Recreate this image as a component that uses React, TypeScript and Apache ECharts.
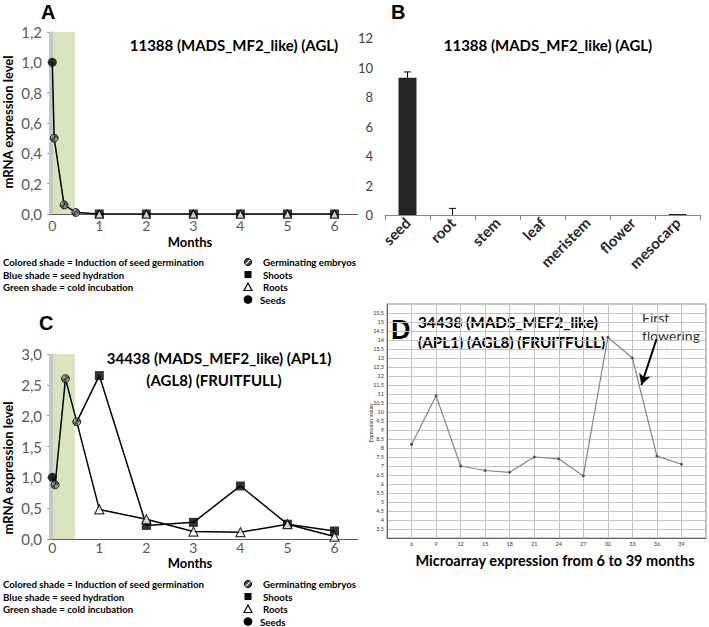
import React, { useEffect, useRef } from "react";
import * as echarts from "echarts";

// ---------- data ----------
const monthTicks = [0, 1, 2, 3, 4, 5, 6];
const laterMonths = [1, 2, 3, 4, 5, 6];

// Panel A
const seedA = [[0, 1.0]];
const embryoA = [[0.04, 0.5], [0.25, 0.06], [0.5, 0.01]];
const shootsA = [0, 0, 0, 0, 0, 0];
const rootsA = [0, 0, 0, 0, 0, 0];

// Panel B
const tissues = ["seed", "root", "stem", "leaf", "meristem", "flower", "mesocarp"];
const tissueValues = [9.3, 0, 0, 0, 0, 0, 0.07];
const tissueErrors = [0.4, 0.45, 0, 0, 0, 0, 0];

// Panel C
const seedC = [[0, 1.0]];
const embryoC = [[0.06, 0.88], [0.28, 2.6], [0.52, 1.9]];
const shootsC = [2.65, 0.22, 0.27, 0.86, 0.24, 0.13];
const rootsC = [0.48, 0.32, 0.12, 0.11, 0.24, 0.04];

// Panel D
const microMonths = [6, 9, 12, 15, 18, 21, 24, 27, 30, 33, 36, 39];
const microValues = [8.2, 10.9, 7.0, 6.75, 6.65, 7.5, 7.4, 6.45, 14.15, 13.0, 7.55, 7.1];

const legendNotes = [
  "Colored shade = Induction of seed germination",
  "Blue shade = seed hydration",
  "Green shade = cold incubation",
];
const legendItems = ["Germinating embryos", "Shoots", "Roots", "Seeds"];

const BLUE = "#b8cadf";
const GREEN = "#d8e4bd";
const FONT = "Lato";
const AXIS = "#868686";

const comma = (v: number, d: number) => v.toFixed(d).replace(".", ",");

function makeHatch(): any {
  try {
    const c = document.createElement("canvas");
    c.width = 4;
    c.height = 4;
    const g = c.getContext("2d");
    if (!g) return "#8a8a8a";
    g.fillStyle = "#d0d0d0";
    g.fillRect(0, 0, 4, 4);
    g.strokeStyle = "#2a2a2a";
    g.lineWidth = 1.3;
    g.beginPath();
    g.moveTo(-1, 5);
    g.lineTo(5, -1);
    g.moveTo(-1, 1);
    g.lineTo(1, -1);
    g.moveTo(3, 5);
    g.lineTo(5, 3);
    g.stroke();
    return { image: c.toDataURL(), repeat: "repeat" };
  } catch (e) {
    return "#8a8a8a";
  }
}

function timeAxisX(gridIndex: number, labelMargin: number) {
  return {
    type: "value",
    gridIndex,
    min: -0.07,
    max: 6.5,
    axisLine: { show: true, lineStyle: { color: "#5a5a5a", width: 1 } },
    axisTick: { show: false },
    splitLine: { show: false },
    axisLabel: {
      customValues: monthTicks,
      margin: labelMargin,
      fontSize: 14,
      color: "#595959",
      fontFamily: FONT,
      formatter: (v: number) => String(v),
    },
  };
}

function exprAxisY(gridIndex: number, max: number, interval: number) {
  return {
    type: "value",
    gridIndex,
    min: 0,
    max,
    interval,
    axisLine: { show: true, lineStyle: { color: AXIS } },
    axisTick: { show: true, length: 5, lineStyle: { color: AXIS } },
    splitLine: { show: false },
    axisLabel: {
      margin: 7,
      fontSize: 15,
      color: "#595959",
      fontFamily: FONT,
      formatter: (v: number) => comma(v, 1),
    },
  };
}

const shadeArea = {
  silent: true,
  data: [
    [{ xAxis: -0.07, itemStyle: { color: BLUE } }, { xAxis: 0 }],
    [{ xAxis: 0, itemStyle: { color: GREEN } }, { xAxis: 0.48 }],
  ],
};

function embryoSeries(x: number, y: number, data: number[][], z: number, fill: any) {
  return {
    type: "scatter",
    xAxisIndex: x,
    yAxisIndex: y,
    data,
    symbol: "circle",
    symbolSize: 8,
    z,
    itemStyle: { color: fill, borderColor: "#000", borderWidth: 1 },
  };
}

function legendBlock(top: number) {
  const els: any[] = [];
  legendNotes.forEach((t, i) => {
    els.push({
      type: "text",
      x: 3,
      y: top + i * 12.5,
      style: { text: t, font: `bold 9.7px ${FONT}`, fill: "#000", textVerticalAlign: "middle" },
    });
  });
  legendItems.forEach((t, i) => {
    els.push({
      type: "text",
      x: i === 3 ? 260 : 263,
      y: top + i * 12.5,
      style: { text: t, font: `bold 9.7px ${FONT}`, fill: "#000", textVerticalAlign: "middle" },
    });
  });
  const sx = 248;
  els.push({ type: "circle", shape: { cx: sx, cy: top, r: 3.6 }, style: { fill: "#444", stroke: "#000", lineWidth: 1 } });
  els.push({ type: "line", shape: { x1: sx - 2.3, y1: top + 2.3, x2: sx + 2.3, y2: top - 2.3 }, style: { stroke: "#fff", lineWidth: 1.2 } });
  els.push({ type: "rect", shape: { x: sx - 3.5, y: top + 12.5 - 3.5, width: 7, height: 7 }, style: { fill: "#000" } });
  els.push({
    type: "polygon",
    shape: { points: [[sx, top + 25 - 4], [sx - 4, top + 25 + 3.5], [sx + 4, top + 25 + 3.5]] },
    style: { fill: "#fff", stroke: "#000", lineWidth: 1.2 },
  });
  els.push({ type: "circle", shape: { cx: sx, cy: top + 37.5, r: 4.3 }, style: { fill: "#000" } });
  return els;
}

function txt(x: number, y: number, text: string, font: string, align = "left", extra: any = {}) {
  return {
    type: "text",
    x,
    y,
    ...extra,
    style: { text, font, fill: "#000", textAlign: align, textVerticalAlign: "middle", ...(extra.style || {}) },
  };
}

export default function App() {
  const ref = useRef<HTMLDivElement>(null);

  useEffect(() => {
    if (!ref.current) return;
    const chart = echarts.init(ref.current, undefined, { renderer: "svg" });
    const hatchFill = makeHatch();

    const lineA = [...seedA, ...embryoA, ...laterMonths.map((m, i) => [m, rootsA[i]])];
    const lineC1 = [...seedC, ...embryoC, ...laterMonths.map((m, i) => [m, shootsC[i]])];
    const lineC2 = [embryoC[embryoC.length - 1], ...laterMonths.map((m, i) => [m, rootsC[i]])];

    const errData = tissues
      .map((_, i) => [i, tissueValues[i], tissueValues[i] + tissueErrors[i]])
      .filter((d) => d[2] > d[1]);

    const option: any = {
      animation: false,
      textStyle: { fontFamily: FONT },
      grid: [
        { left: 49, top: 32, width: 309, height: 182 },
        { left: 385, top: 38, width: 315, height: 177 },
        { left: 49, top: 354, width: 309, height: 185 },
        { left: 387, top: 304, width: 321, height: 234, show: true, borderColor: "#8c8c8c", borderWidth: 1 },
      ],
      xAxis: [
        timeAxisX(0, 4),
        {
          type: "category",
          gridIndex: 1,
          data: tissues,
          boundaryGap: true,
          axisLine: { show: true, lineStyle: { color: AXIS } },
          axisTick: { show: true, length: 5, lineStyle: { color: AXIS } },
          axisLabel: {
            rotate: 45,
            margin: 5,
            interval: 0,
            fontSize: 15,
            fontWeight: "bold",
            color: "#262626",
            fontFamily: FONT,
          },
        },
        timeAxisX(2, 1),
        {
          type: "value",
          gridIndex: 3,
          min: 3,
          max: 42,
          interval: 3,
          axisLine: { show: true, lineStyle: { color: "#666" } },
          axisTick: { show: false },
          splitLine: { show: true, lineStyle: { color: "#c4c4c4", width: 1 } },
          axisLabel: {
            margin: 3,
            fontSize: 5.5,
            color: "#333",
            formatter: (v: number) => (v === 3 || v === 42 ? "" : String(v)),
          },
        },
      ],
      yAxis: [
        exprAxisY(0, 1.2, 0.2),
        {
          type: "value",
          gridIndex: 1,
          min: 0,
          max: 12,
          interval: 2,
          axisLine: { show: false },
          axisTick: { show: false },
          splitLine: { show: false },
          axisLabel: { margin: 12, fontSize: 13, color: "#404040", fontFamily: FONT },
        },
        exprAxisY(2, 3.0, 0.5),
        {
          type: "value",
          gridIndex: 3,
          min: 3,
          max: 16,
          interval: 0.5,
          axisLine: { show: true, lineStyle: { color: "#666" } },
          axisTick: { show: false },
          splitLine: { show: true, lineStyle: { color: "#c4c4c4", width: 1 } },
          axisLabel: {
            margin: 3,
            fontSize: 5.5,
            color: "#333",
            formatter: (v: number) => (v === 3 || v === 16 ? "" : String(v).replace(".", ",")),
          },
        },
      ],
      series: [
        // ---- Panel A ----
        {
          type: "line",
          xAxisIndex: 0,
          yAxisIndex: 0,
          data: lineA,
          symbol: "none",
          z: 2,
          lineStyle: { color: "#000", width: 1.5 },
          markArea: shadeArea,
        },
        {
          type: "scatter",
          xAxisIndex: 0,
          yAxisIndex: 0,
          data: laterMonths.map((m, i) => [m, shootsA[i]]),
          symbol: "rect",
          symbolSize: 9,
          z: 3,
          itemStyle: { color: "#000" },
        },
        {
          type: "scatter",
          xAxisIndex: 0,
          yAxisIndex: 0,
          data: laterMonths.map((m, i) => [m, rootsA[i]]),
          symbol: "triangle",
          symbolSize: 8,
          z: 4,
          itemStyle: { color: "#fff", borderColor: "#000", borderWidth: 1.2 },
        },
        embryoSeries(0, 0, embryoA, 5, hatchFill),
        {
          type: "scatter",
          xAxisIndex: 0,
          yAxisIndex: 0,
          data: seedA,
          symbol: "circle",
          symbolSize: 9,
          z: 6,
          itemStyle: { color: "#000" },
        },
        // ---- Panel B ----
        {
          type: "bar",
          xAxisIndex: 1,
          yAxisIndex: 1,
          data: tissueValues,
          barWidth: 18,
          itemStyle: { color: "#262626" },
        },
        {
          type: "custom",
          xAxisIndex: 1,
          yAxisIndex: 1,
          data: errData,
          z: 5,
          renderItem: (params: any, api: any) => {
            const lo = api.coord([api.value(0), api.value(1)]);
            const hi = api.coord([api.value(0), api.value(2)]);
            return {
              type: "group",
              children: [
                { type: "line", shape: { x1: lo[0], y1: lo[1], x2: hi[0], y2: hi[1] }, style: { stroke: "#000", lineWidth: 1 } },
                { type: "line", shape: { x1: hi[0] - 3.5, y1: hi[1], x2: hi[0] + 3.5, y2: hi[1] }, style: { stroke: "#000", lineWidth: 1 } },
              ],
            };
          },
        },
        // ---- Panel C ----
        {
          type: "line",
          xAxisIndex: 2,
          yAxisIndex: 2,
          data: lineC1,
          symbol: "none",
          z: 2,
          lineStyle: { color: "#000", width: 1.5 },
          markArea: shadeArea,
        },
        {
          type: "line",
          xAxisIndex: 2,
          yAxisIndex: 2,
          data: lineC2,
          symbol: "none",
          z: 2,
          lineStyle: { color: "#000", width: 1.5 },
        },
        {
          type: "scatter",
          xAxisIndex: 2,
          yAxisIndex: 2,
          data: laterMonths.map((m, i) => [m, shootsC[i]]),
          symbol: "rect",
          symbolSize: 9,
          z: 3,
          itemStyle: { color: "#000" },
        },
        {
          type: "scatter",
          xAxisIndex: 2,
          yAxisIndex: 2,
          data: laterMonths.map((m, i) => [m, rootsC[i]]),
          symbol: "triangle",
          symbolSize: 9,
          z: 4,
          itemStyle: { color: "#fff", borderColor: "#000", borderWidth: 1.2 },
        },
        {
          type: "scatter",
          xAxisIndex: 2,
          yAxisIndex: 2,
          data: seedC,
          symbol: "circle",
          symbolSize: 9,
          z: 5,
          itemStyle: { color: "#000" },
        },
        embryoSeries(2, 2, embryoC, 6, hatchFill),
        // ---- Panel D ----
        {
          type: "line",
          xAxisIndex: 3,
          yAxisIndex: 3,
          data: microMonths.map((m, i) => [m, microValues[i]]),
          symbol: "circle",
          symbolSize: 3,
          itemStyle: { color: "#555" },
          lineStyle: { color: "#858585", width: 1.2 },
          markLine: {
            silent: true,
            symbol: ["none", "arrow"],
            symbolSize: [9, 11],
            label: { show: false },
            lineStyle: { color: "#000", width: 2, type: "solid" },
            data: [[{ coord: [35.95, 14.05] }, { coord: [34.1, 11.5] }]],
          },
        },
      ],
      graphic: [
        txt(41, 12, "A", "bold 20px 'Liberation Sans'"),
        txt(391, 12, "B", "bold 20px 'Liberation Sans'"),
        txt(39, 323, "C", "bold 20px 'Liberation Sans'"),
        txt(391, 330, "D", "bold 27px 'Liberation Sans'"),
        txt(234, 45, "11388 (MADS_MF2_like) (AGL)", `bold 15px ${FONT}`, "center"),
        txt(548, 45, "11388 (MADS_MF2_like) (AGL)", `bold 15px ${FONT}`, "center"),
        txt(219, 358, "34438 (MADS_MEF2_like) (APL1)", `bold 15px ${FONT}`, "center"),
        txt(214, 380, "(AGL8) (FRUITFULL)", `bold 15px ${FONT}`, "center"),
        txt(418, 322, "34438 (MADS_MEF2_like)", `bold 15.3px ${FONT}`, "left"),
        txt(418, 342, "(APL1) (AGL8) (FRUITFULL)", `bold 15.3px ${FONT}`, "left"),
        txt(642, 317, "First", `14px ${FONT}`, "left", { style: { fill: "#333" } }),
        txt(642, 335, "flowering", `14px ${FONT}`, "left", { style: { fill: "#333" } }),
        txt(190, 242, "Months", `bold 13px ${FONT}`, "center"),
        txt(190, 563, "Months", `bold 13px ${FONT}`, "center"),
        txt(8, 122, "mRNA expression level", `bold 13px ${FONT}`, "center", { rotation: Math.PI / 2 }),
        txt(8, 468, "mRNA expression level", `bold 13px ${FONT}`, "center", { rotation: Math.PI / 2 }),
        txt(371, 423, "Expression Values", `5px ${FONT}`, "center", { rotation: Math.PI / 2, style: { fill: "#333" } }),
        txt(555, 560, "Microarray expression from 6 to 39 months", `bold 14.5px ${FONT}`, "center"),
        ...legendBlock(262),
        ...legendBlock(584),
      ],
    };

    chart.setOption(option);
    return () => chart.dispose();
  }, []);

  return (
    <div
      ref={ref}
      style={{ position: "absolute", left: 0, top: 0, width: 709, height: 627, background: "#fff" }}
    />
  );
}
